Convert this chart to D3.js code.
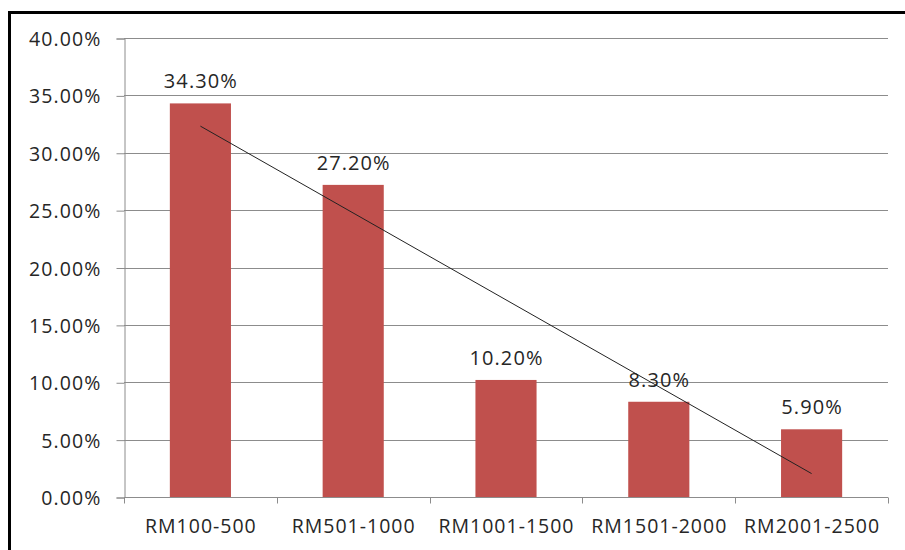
<!DOCTYPE html>
<html>
<head>
<meta charset="utf-8">
<script src="https://cdn.jsdelivr.net/npm/d3@7"></script>
<style>
  html, body { margin: 0; padding: 0; background: #fff; }
  svg { display: block; }
  text { font-family: "Open Sans", sans-serif; fill: #262626; }
</style>
</head>
<body>
<svg id="chart" width="905" height="550"></svg>
<script>
// Monthly income bands and share of respondents
const categories = ["RM100-500", "RM501-1000", "RM1001-1500", "RM1501-2000", "RM2001-2500"];
const shares = [0.343, 0.272, 0.102, 0.083, 0.059];
const yTicks = [0, 0.05, 0.10, 0.15, 0.20, 0.25, 0.30, 0.35, 0.40];

const svg = d3.select("#chart");
const W = 905, H = 550;
const plot = { left: 124, right: 888, top: 38, bottom: 497 };
const FONT = "Open Sans";

const x = d3.scaleBand().domain(categories).range([plot.left, plot.right]).paddingInner(0.6).paddingOuter(0.3);
const y = d3.scaleLinear().domain([0, 0.40]).range([plot.bottom, plot.top]);
const fmt = d3.format(".2%");

// outer frame (left and top edges)
svg.append("path")
  .attr("d", `M9.5,${H} L9.5,12.5 L${W},12.5`)
  .attr("fill", "none").attr("stroke", "#000").attr("stroke-width", 3);

// horizontal gridlines
svg.append("g").selectAll("line").data(yTicks.filter(d => d > 0)).join("line")
  .attr("x1", plot.left).attr("x2", plot.right)
  .attr("y1", d => Math.round(y(d)) + 0.5).attr("y2", d => Math.round(y(d)) + 0.5)
  .attr("stroke", "#8c8c8c").attr("stroke-width", 1);

// y axis
const yAxis = svg.append("g")
  .attr("transform", `translate(${plot.left + 0.5},0.5)`)
  .call(d3.axisLeft(y).tickValues(yTicks).tickFormat(fmt).tickSize(8).tickPadding(15));
yAxis.select(".domain").attr("stroke", "#8c8c8c");
yAxis.selectAll(".tick line").attr("stroke", "#8c8c8c");
yAxis.selectAll(".tick text")
  .style("font-family", FONT).style("font-size", "19.5px")
  .style("letter-spacing", "1.1px").attr("fill", "#262626").attr("dy", "0.36em");

// x axis with category boundary ticks
const xAxisG = svg.append("g").attr("transform", `translate(0,${plot.bottom + 0.5})`);
xAxisG.append("line").attr("x1", plot.left).attr("x2", plot.right)
  .attr("stroke", "#8c8c8c");
const bounds = d3.range(categories.length + 1).map(i => plot.left + i * (plot.right - plot.left) / categories.length);
xAxisG.selectAll("line.tk").data(bounds).join("line").attr("class", "tk")
  .attr("x1", d => Math.round(d) + 0.5).attr("x2", d => Math.round(d) + 0.5)
  .attr("y1", 0).attr("y2", 6).attr("stroke", "#8c8c8c");
xAxisG.selectAll("text").data(categories).join("text")
  .attr("x", d => x(d) + x.bandwidth() / 2 + 0.5)
  .attr("y", 35.5)
  .attr("text-anchor", "middle")
  .style("font-size", "19.5px").style("letter-spacing", "1px")
  .text(d => d);

// bars
svg.append("g").selectAll("rect").data(categories).join("rect")
  .attr("x", d => x(d))
  .attr("width", x.bandwidth())
  .attr("y", (d, i) => y(shares[i]))
  .attr("height", (d, i) => plot.bottom - y(shares[i]))
  .attr("fill", "#C0504D");

// value labels
svg.append("g").selectAll("text").data(categories).join("text")
  .attr("x", d => x(d) + x.bandwidth() / 2 + 0.5)
  .attr("y", (d, i) => y(shares[i]) - 15)
  .attr("text-anchor", "middle")
  .style("font-size", "20px").style("letter-spacing", "1.1px")
  .text((d, i) => fmt(shares[i]));

// linear trendline (least squares over category index)
const n = shares.length;
const xs = d3.range(1, n + 1);
const mx = d3.mean(xs), my = d3.mean(shares);
const slope = d3.sum(xs, (v, i) => (v - mx) * (shares[i] - my)) / d3.sum(xs, v => (v - mx) ** 2);
const icpt = my - slope * mx;
const trend = [categories[0], categories[n - 1]].map((c, k) => {
  const xi = k === 0 ? 1 : n;
  return [x(c) + x.bandwidth() / 2, y(icpt + slope * xi)];
});
svg.append("path")
  .attr("d", d3.line()(trend))
  .attr("stroke", "#222").attr("stroke-width", 1).attr("fill", "none");
</script>
</body>
</html>
